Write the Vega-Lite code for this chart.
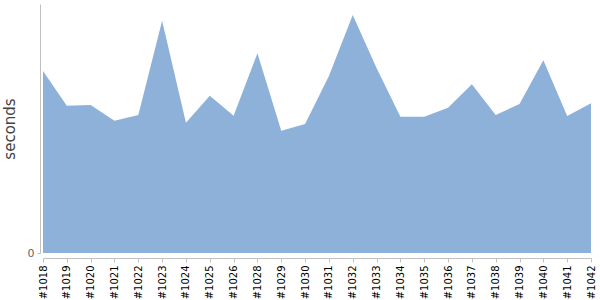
{
  "$schema": "https://vega.github.io/schema/vega-lite/v6.json",
  "width": 548,
  "height": 249,
  "autosize": {"type": "none"},
  "padding": {"left": 43, "top": 4, "right": 9, "bottom": 47},
  "background": "white",
  "config": {"view": {"stroke": null}, "font": "DejaVu Sans"},
  "data": {
    "values": [
      {"build": "#1018", "seconds": 182},
      {"build": "#1019", "seconds": 147.3},
      {"build": "#1020", "seconds": 148},
      {"build": "#1021", "seconds": 132.3},
      {"build": "#1022", "seconds": 138},
      {"build": "#1023", "seconds": 232.3},
      {"build": "#1024", "seconds": 130.3},
      {"build": "#1025", "seconds": 157.3},
      {"build": "#1026", "seconds": 137.3},
      {"build": "#1028", "seconds": 199.7},
      {"build": "#1029", "seconds": 122.3},
      {"build": "#1030", "seconds": 129},
      {"build": "#1031", "seconds": 177},
      {"build": "#1032", "seconds": 238},
      {"build": "#1033", "seconds": 185},
      {"build": "#1034", "seconds": 136.3},
      {"build": "#1035", "seconds": 136.3},
      {"build": "#1036", "seconds": 145.3},
      {"build": "#1037", "seconds": 168.7},
      {"build": "#1038", "seconds": 138},
      {"build": "#1039", "seconds": 149},
      {"build": "#1040", "seconds": 192.7},
      {"build": "#1041", "seconds": 137},
      {"build": "#1042", "seconds": 149.7}
    ]
  },
  "mark": {"type": "area", "color": "#8EB1DA", "opacity": 1},
  "encoding": {
    "x": {
      "field": "build",
      "type": "ordinal",
      "sort": null,
      "scale": {"type": "point", "padding": 0},
      "axis": {
        "title": null,
        "offset": 5,
        "labelAngle": -90,
        "labelFontSize": 10,
        "labelColor": "#000000",
        "labelPadding": 3,
        "domainColor": "#C0C0C0",
        "tickColor": "#C0C0C0",
        "tickSize": 4,
        "grid": false
      }
    },
    "y": {
      "field": "seconds",
      "type": "quantitative",
      "scale": {"domain": [0, 249], "nice": false},
      "axis": {
        "title": "seconds",
        "titleFontSize": 15,
        "titleFontWeight": "normal",
        "titleColor": "#444444",
        "titlePadding": 10,
        "offset": 3,
        "values": [0],
        "labelFontSize": 11,
        "labelColor": "#666666",
        "labelPadding": 3,
        "tickSize": 3,
        "tickColor": "#C0C0C0",
        "domainColor": "#C0C0C0",
        "grid": false
      }
    }
  }
}
